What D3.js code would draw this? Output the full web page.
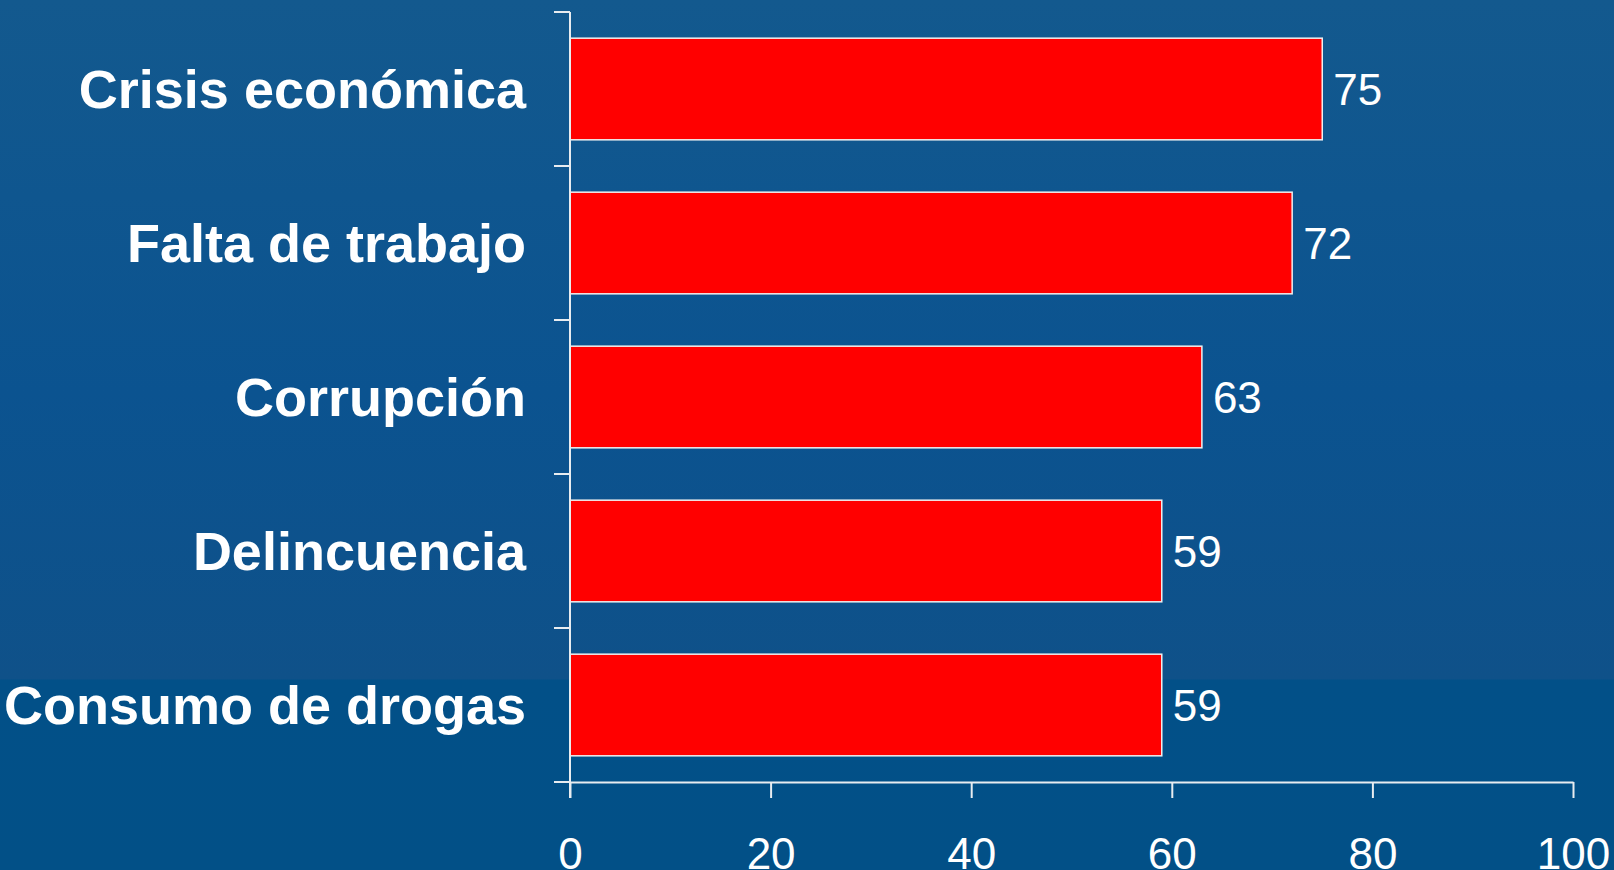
<!DOCTYPE html>
<html>
<head>
<meta charset="utf-8">
<script src="https://cdn.jsdelivr.net/npm/d3@7"></script>
<style>
  html, body { margin: 0; padding: 0; overflow: hidden; }
  svg { display: block; }
</style>
</head>
<body>
<div id="chart"></div>
<script>
// data
const categories = ['Crisis económica', 'Falta de trabajo', 'Corrupción', 'Delincuencia', 'Consumo de drogas'];
const values = [75, 72, 63, 59, 59];
const xTicks = [0, 20, 40, 60, 80, 100];

const W = 1614, H = 870;
const plotLeft = 570, plotRight = 1573, plotTop = 12, plotBottom = 782;

const svg = d3.select('#chart').append('svg')
    .attr('width', W)
    .attr('height', H);

// background, banded blue
const defs = svg.append('defs');
const grad = defs.append('linearGradient')
    .attr('id', 'bg')
    .attr('x1', 0).attr('y1', 0).attr('x2', 0).attr('y2', 1);
[
    [0, '#13598e'],
    [0.45, '#0b5390'],
    [0.78, '#0f5189'],
    [0.782, '#025088'],
    [1, '#025087']
].forEach(([o, c]) => grad.append('stop').attr('offset', o).attr('stop-color', c));

svg.append('rect')
    .attr('width', W)
    .attr('height', H)
    .attr('fill', 'url(#bg)');

const x = d3.scaleLinear().domain([0, 100]).range([plotLeft, plotRight]);
const y = d3.scaleBand()
    .domain(categories)
    .range([plotTop, plotBottom])
    .paddingInner(0.34)
    .paddingOuter(0.17);

const axisColor = '#e8ecf0';

// bars
svg.selectAll('.bar')
    .data(values)
    .enter().append('rect')
    .attr('class', 'bar')
    .attr('x', x(0))
    .attr('y', (d, i) => y(categories[i]))
    .attr('width', d => x(d) - x(0))
    .attr('height', y.bandwidth())
    .attr('fill', '#ff0000')
    .attr('stroke', '#f0f0f0')
    .attr('stroke-width', 1.5);

// value labels
svg.selectAll('.val')
    .data(values)
    .enter().append('text')
    .attr('class', 'val')
    .attr('x', d => x(d) + 11)
    .attr('y', (d, i) => y(categories[i]) + y.bandwidth() / 2)
    .attr('dy', '0.36em')
    .attr('fill', '#ffffff')
    .style('font-family', 'Liberation Sans, Arial, sans-serif')
    .style('font-size', '44px')
    .text(d => d);

// y axis: line plus ticks at band boundaries
const step = y.step();
const yBounds = d3.range(categories.length + 1).map(i => plotTop + i * step);

svg.append('line')
    .attr('x1', plotLeft).attr('x2', plotLeft)
    .attr('y1', plotTop).attr('y2', plotBottom + 16)
    .attr('stroke', axisColor).attr('stroke-width', 2);

svg.selectAll('.ytick')
    .data(yBounds)
    .enter().append('line')
    .attr('x1', plotLeft - 16).attr('x2', plotLeft)
    .attr('y1', d => d).attr('y2', d => d)
    .attr('stroke', axisColor).attr('stroke-width', 2);

// category labels
svg.selectAll('.cat')
    .data(categories)
    .enter().append('text')
    .attr('class', 'cat')
    .attr('x', plotLeft - 44)
    .attr('y', d => y(d) + y.bandwidth() / 2)
    .attr('dy', '0.36em')
    .attr('text-anchor', 'end')
    .attr('fill', '#ffffff')
    .style('font-family', 'Liberation Sans, Arial, sans-serif')
    .style('font-weight', 'bold')
    .style('font-size', '54px')
    .text(d => d);

// x axis
const xAxis = svg.append('g')
    .attr('transform', `translate(0,${plotBottom})`)
    .call(d3.axisBottom(x).tickValues(xTicks).tickSize(16).tickSizeOuter(0).tickPadding(40));

xAxis.select('.domain')
    .attr('stroke', axisColor)
    .attr('stroke-width', 2);
xAxis.selectAll('.tick line')
    .attr('stroke', axisColor)
    .attr('stroke-width', 2);
xAxis.selectAll('.tick text')
    .attr('fill', '#ffffff')
    .style('font-family', 'Liberation Sans, Arial, sans-serif')
    .style('font-size', '44px');
</script>
</body>
</html>
